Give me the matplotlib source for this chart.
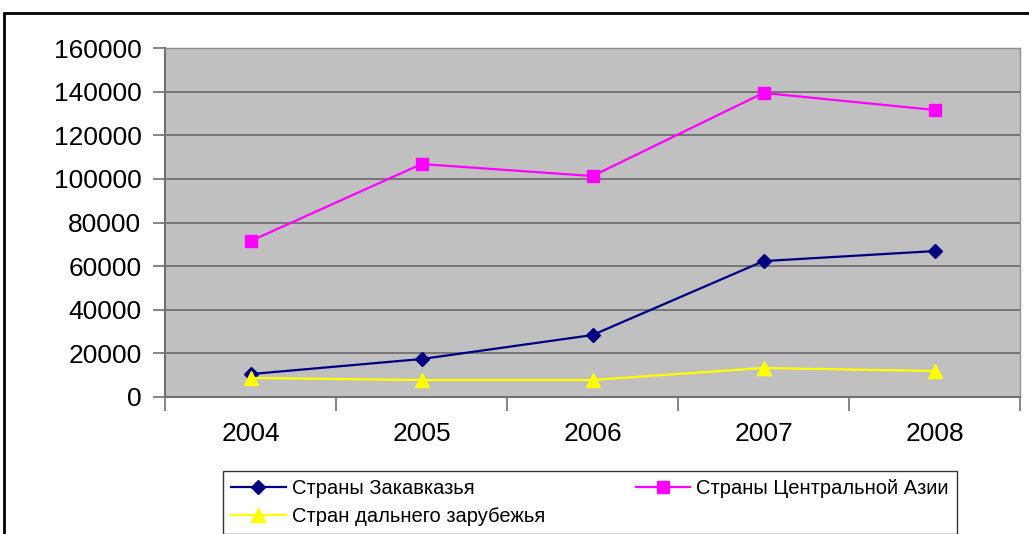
import matplotlib.pyplot as plt
from matplotlib.patches import Rectangle

# ------------------------
# Data
# ------------------------

years = ["2004", "2005", "2006", "2007", "2008"]
zakavkazye = [10500, 17400, 28400, 62300, 66900]
central_asia = [71500, 106800, 101300, 139400, 131600]
far_abroad = [8700, 7800, 7800, 13300, 11900]

series_names = ["Страны Закавказья", "Страны Центральной Азии", "Стран дальнего зарубежья"]

plt.rcParams['font.family'] = ['Liberation Sans', 'DejaVu Sans']

fig = plt.figure(figsize=(10.29, 5.34), dpi=100)
ax = fig.add_axes([165 / 1029, 1 - 397 / 534, (1020 - 165) / 1029, (397 - 48) / 534])
ax.set_facecolor("#C0C0C0")

x = range(len(years))
l1, = ax.plot(x, zakavkazye, color="#000080", marker="D", markersize=7, lw=1.6, label=series_names[0])
l2, = ax.plot(x, central_asia, color="#FF00FF", marker="s", markersize=9, lw=1.6, label=series_names[1])
l3, = ax.plot(x, far_abroad, color="#FFFF00", marker="^", markersize=10, lw=1.6, label=series_names[2])

ax.set_xlim(-0.5, len(years) - 0.5)
ax.set_ylim(0, 160000)
ax.set_yticks(range(0, 160001, 20000))
ax.set_yticklabels([str(v) for v in range(0, 160001, 20000)], fontsize=19)
ax.yaxis.grid(True, color="#707070", lw=1.3)
ax.set_axisbelow(True)

# category ticks between categories, labels in the middle
ax.set_xticks([i - 0.5 for i in range(len(years) + 1)])
ax.set_xticklabels([])
ax.set_xticks(list(x), minor=True)
ax.set_xticklabels(years, minor=True, fontsize=19)
ax.tick_params(axis="x", which="minor", length=0, pad=18)
ax.tick_params(axis="x", which="major", length=10, color="#707070", width=1.2)
ax.tick_params(axis="y", length=9, color="#707070", width=1.2, pad=8)

for side in ["left", "bottom"]:
    ax.spines[side].set_color("#707070")
    ax.spines[side].set_linewidth(1.5)
for side in ["top", "right"]:
    ax.spines[side].set_color("#909090")
    ax.spines[side].set_linewidth(1.0)

# outer chart frame (cut off at right and bottom)
fig.patches.append(Rectangle((4 / 1029, -0.1), 1.2, 1 - 13 / 534 + 0.1,
                             transform=fig.transFigure, fill=False,
                             edgecolor="black", lw=2, clip_on=False))

# row-major order like the original: matplotlib fills columns first
leg = fig.legend([l1, l3, l2], [series_names[0], series_names[2], series_names[1]],
                 loc="upper left", bbox_to_anchor=(213 / 1029, 1 - 466 / 534, (967 - 213) / 1029, 0.01),
                 mode="expand", ncol=2, fontsize=14.5, frameon=True, fancybox=False,
                 handlelength=2.7, handletextpad=0.3, borderpad=0.4, labelspacing=0.45,
                 columnspacing=1.0)
leg.get_frame().set_edgecolor("black")
leg.get_frame().set_linewidth(1.0)

fig.savefig("out.png", dpi=100)
